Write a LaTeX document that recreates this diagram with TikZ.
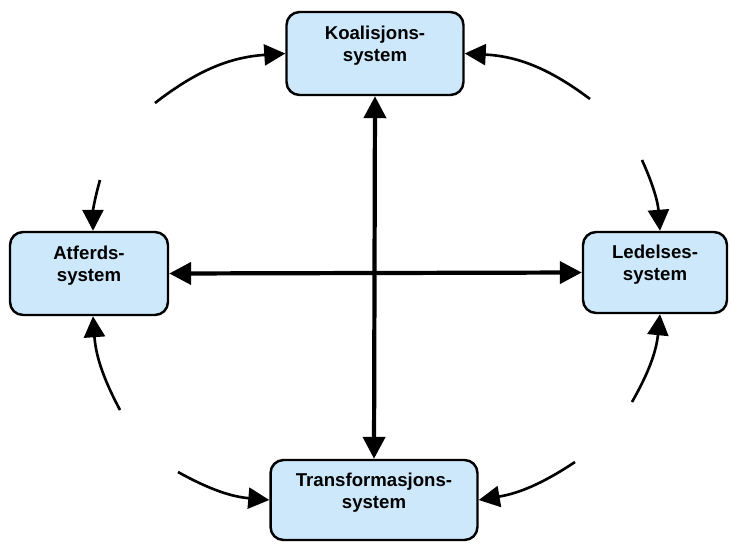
\documentclass[tikz,border=0pt]{standalone}
\usepackage{fontspec}
\setmainfont{Liberation Sans}
\usepackage{tikz}
\usetikzlibrary{arrows.meta,calc}
\definecolor{boxblue}{RGB}{204,232,250}
\tikzset{
  sys/.style={draw, line width=1.4pt, rounded corners=0.26cm, fill=boxblue, align=center,
    inner sep=0pt, text depth=11pt, font=\bfseries\fontsize{10.6}{12.5}\selectfont},
  ring/.style={line width=1.5pt, -{Triangle[length=0.42cm,width=0.42cm]}},
  cross/.style={line width=2.4pt, {Triangle[length=0.44cm,width=0.44cm]}-{Triangle[length=0.44cm,width=0.44cm]}}
}

\begin{document}
\begin{tikzpicture}[x=0.02cm,y=-0.02cm]
\useasboundingbox (0,0) rectangle (731,542);
% the four systems
\node[sys, minimum width=3.54cm, minimum height=1.66cm] (koal) at (375,53.5) {Koalisjons-\\system};
\node[sys, minimum width=3.16cm, minimum height=1.66cm] (atf) at (89,273.5) {Atferds-\\system};
\node[sys, minimum width=2.88cm, minimum height=1.62cm] (led) at (655,272.5) {Ledelses-\\system};
\node[sys, minimum width=4.14cm, minimum height=1.6cm] (trans) at (374,500) {Transformasjons-\\system};
% free ends of the ring arrows
\coordinate (tl1) at (155,103);
\coordinate (tl2) at (100,180);
\coordinate (tr1) at (590,99);
\coordinate (tr2) at (642,160);
\coordinate (bl1) at (120,410);
\coordinate (bl2) at (178,472);
\coordinate (br1) at (632,402);
\coordinate (br2) at (575,462);
\draw[ring] (tl1) to[bend left=17] (koal.west);
\draw[ring] (tl2) to[bend right=8] ([xshift=0.08cm]atf.north);
\draw[ring] (tr1) to[bend right=17] (koal.east);
\draw[ring] (tr2) to[bend left=10] ([xshift=0.1cm]led.north);
\draw[ring] (bl1) to[bend left=12] ([xshift=0.08cm]atf.south);
\draw[ring] (bl2) to[bend right=12] (trans.west);
\draw[ring] (br1) to[bend right=12] ([xshift=0.1cm]led.south);
\draw[ring] (br2) to[bend left=12] (trans.east);
% the cross
\draw[cross] (koal.south) -- (trans.north);
\draw[cross] (atf.east) -- (led.west);
\end{tikzpicture}
\end{document}
